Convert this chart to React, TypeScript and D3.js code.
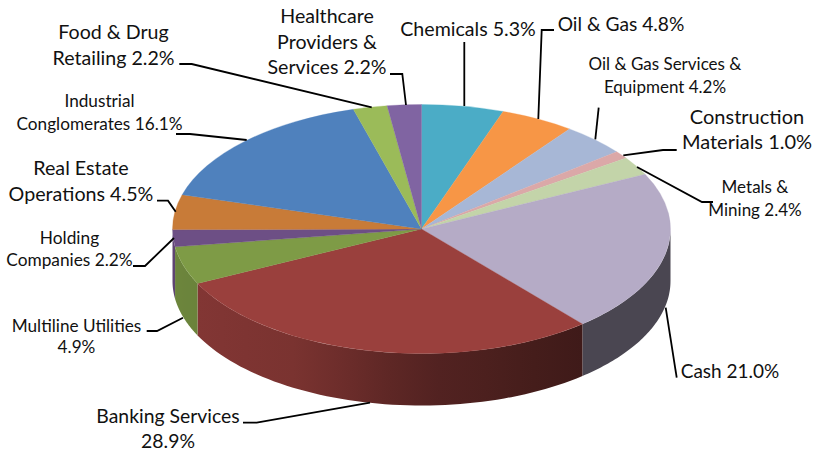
import React from "react";
import * as d3 from "d3";

// Portfolio allocation by sector, clockwise from twelve o'clock.
const sectors = [
  "Chemicals", "Oil & Gas", "Oil & Gas Services & Equipment", "Construction Materials",
  "Metals & Mining", "Cash", "Banking Services", "Multiline Utilities", "Holding Companies",
  "Real Estate Operations", "Industrial Conglomerates", "Food & Drug Retailing",
  "Healthcare Providers & Services",
];
const weights = [5.3, 4.8, 4.2, 1.0, 2.4, 21.0, 28.9, 4.9, 2.2, 4.5, 16.1, 2.2, 2.2];
const sliceColors = [
  "#4bacc6", "#f79646", "#a7b7d6", "#dba8a8", "#c3d4a9", "#b5abc6", "#9a403d",
  "#7e9b46", "#6d4f85", "#c87b38", "#4f81bd", "#9bbb59", "#8064a2",
];

type Callout = {
  lines: string[];
  size: number;
  x: number;
  baselines: number[];
  leader: [number, number][];
};

// Label placement and leader routes, one per sector in the same order.
const callouts: Callout[] = [
  { lines: ["Chemicals 5.3%"], size: 19.6, x: 468, baselines: [35.7], leader: [[464.3, 106], [464.3, 42]] },
  { lines: ["Oil & Gas 4.8%"], size: 19.2, x: 621, baselines: [30.7], leader: [[538.3, 119], [541.7, 30], [554, 30]] },
  { lines: ["Oil & Gas Services &", "Equipment 4.2%"], size: 17, x: 665, baselines: [70, 92.7], leader: [[595.3, 139.3], [598.7, 107.7]] },
  { lines: ["Construction", "Materials 1.0%"], size: 20, x: 747, baselines: [124, 149.3], leader: [[623.3, 155.3], [663, 150], [676.7, 150]] },
  { lines: ["Metals &", "Mining 2.4%"], size: 17, x: 755, baselines: [192.7, 216], leader: [[637, 167], [702, 202], [713, 202]] },
  { lines: ["Cash 21.0%"], size: 19, x: 730, baselines: [377.7], leader: [[665.7, 307.7], [676.7, 377.7]] },
  { lines: ["Banking Services", "28.9%"], size: 19.4, x: 168, baselines: [422.7, 448], leader: [[370, 402.7], [256.7, 422.7], [243, 422.7]] },
  { lines: ["Multiline Utilities", "4.9%"], size: 17.2, x: 76.5, baselines: [331.7, 353], leader: [[183, 317.7], [157, 331], [146.7, 331]] },
  { lines: ["Holding", "Companies 2.2%"], size: 17.3, x: 69.5, baselines: [244, 266], leader: [[174, 238], [145, 266], [133, 266]] },
  { lines: ["Real Estate", "Operations 4.5%"], size: 19.7, x: 81, baselines: [175, 201], leader: [[175.7, 211.7], [168, 200.7], [157, 200.7]] },
  { lines: ["Industrial", "Conglomerates 16.1%"], size: 17.2, x: 99.5, baselines: [107.3, 130], leader: [[246.7, 140], [190, 134], [176, 134]] },
  { lines: ["Food & Drug", "Retailing 2.2%"], size: 19.6, x: 113.5, baselines: [38.5, 65], leader: [[179.3, 64], [191.7, 64], [371.7, 107.3]] },
  { lines: ["Healthcare", "Providers &", "Services 2.2%"], size: 19.6, x: 327, baselines: [22.7, 49, 74], leader: [[390, 74], [402.3, 74], [406, 105]] },
];

const WIDTH = 814;
const HEIGHT = 453;
const CX = 421.5;
const CY = 229;
const RX = 249;
const RY = 124.5;
const DEPTH = 52;

// Wall brightness falls off from left to right across the rim.
const wallShade = d3.scaleLinear().domain([172, 300, 420, 581, 671]).range([0.86, 0.79, 0.55, 0.41, 0.41]);

const rim = (t: number, drop = 0): [number, number] => [CX + RX * Math.sin(t), CY - RY * Math.cos(t) + drop];

const shaded = (color: string, k: number) => {
  const c = d3.rgb(color);
  return d3.rgb(c.r * k, c.g * k, c.b * k).formatHex();
};

export default function App() {
  const slices = d3.pie<number>().sort(null).startAngle(0).endAngle(2 * Math.PI)(weights);
  const topArc = d3.arc<d3.PieArcDatum<number>>().innerRadius(0).outerRadius(RX);
  const pathLine = d3.line();

  const walls = slices
    .map((s, i) => {
      // Only the front half of the rim is visible.
      const a = Math.max(s.startAngle, Math.PI / 2);
      const b = Math.min(s.endAngle, (3 * Math.PI) / 2);
      if (b <= a) return null;
      const angles = d3.range(0, 61).map((n) => a + ((b - a) * n) / 60);
      const pts = [...angles.map((t) => rim(t)), ...angles.slice().reverse().map((t) => rim(t, DEPTH))];
      const xs = angles.map((t) => rim(t)[0]);
      return { i, d: pathLine(pts) + "Z", x0: d3.min(xs)!, x1: d3.max(xs)! };
    })
    .filter(Boolean) as { i: number; d: string; x0: number; x1: number }[];

  return (
    <svg
      width={WIDTH}
      height={HEIGHT}
      viewBox={`0 0 ${WIDTH} ${HEIGHT}`}
      style={{ position: "absolute", left: 0, top: 0, background: "#fff" }}
      fontFamily="Lato, 'Open Sans', sans-serif"
    >
      <defs>
        {walls.map((w) => (
          <linearGradient key={w.i} id={`wall-${w.i}`} gradientUnits="userSpaceOnUse" x1={w.x0} x2={w.x1} y1={0} y2={0}>
            {d3.range(0, 9).map((n) => {
              const x = w.x0 + ((w.x1 - w.x0) * n) / 8;
              return <stop key={n} offset={n / 8} stopColor={shaded(sliceColors[w.i], wallShade(x))} />;
            })}
          </linearGradient>
        ))}
      </defs>

      {walls.map((w) => (
        <path key={w.i} d={w.d} fill={`url(#wall-${w.i})`} />
      ))}

      <g transform={`translate(${CX},${CY}) scale(1,${RY / RX})`}>
        {slices.map((s, i) => (
          <path
            key={sectors[i]}
            d={topArc(s)!}
            fill={sliceColors[i]}
            stroke={sliceColors[i]}
            strokeWidth={0.4}
          />
        ))}
      </g>

      {callouts.map((c) => (
        <polyline
          key={c.lines[0]}
          points={c.leader.map((p) => p.join(",")).join(" ")}
          fill="none"
          stroke="#000"
          strokeWidth={1.8}
        />
      ))}

      {callouts.map((c) =>
        c.lines.map((line, j) => (
          <text key={line} x={c.x} y={c.baselines[j]} fontSize={c.size} textAnchor="middle" fill="#111">
            {line}
          </text>
        ))
      )}
    </svg>
  );
}
